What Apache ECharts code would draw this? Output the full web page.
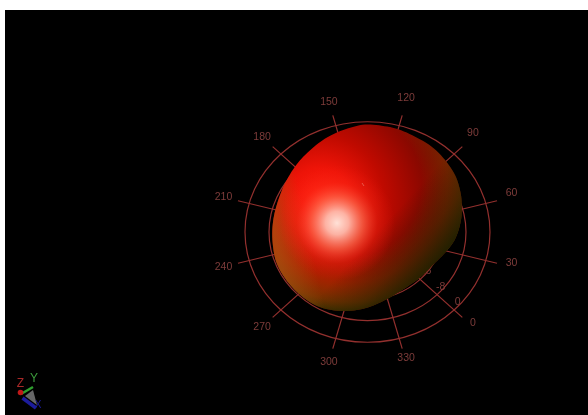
<!DOCTYPE html>
<html><head><meta charset="utf-8">
<style>html,body{margin:0;padding:0;background:#fff}#c{width:588px;height:415px}</style>
<script src="https://cdn.jsdelivr.net/npm/echarts@6/dist/echarts.min.js"></script>
</head><body><div id="c"></div>
<script>
// Radial scale: dB values, with the pattern's floor below 0 dB
const dbFloor = -40.83;
const ringValues = [0, -8, -16];
const ringLabels = ['0', '-8', '-16'];
const angleTicks = [0, 30, 60, 90, 120, 150, 180, 210, 240, 270, 300, 330];
// Silhouette of the gain surface: azimuth (deg) and radius above the floor
const blobAngles = [136.2,128.1,119.9,110.8,100.9,90.9,80.9,71.8,63.7,53.1,40.4,29.2,16,1.1,-20.1,-34.6,-46.7,-57.3,-67.4,-77.9,-90.5,-103,-114,-124.1,-135.2,-145.8,-156.7,-168.3,-180,-188.9,-198.5,-206.6,-215.5];
const blobRadii  = [39.82,39.65,39.4,38.69,38.16,37.13,36,34.53,33.15,31.48,29.4,27.1,25,24.3,24.6,26.24,28.27,29.95,31.26,32.21,32.36,32.41,32.41,31.98,31.73,31.73,32,32.89,34.2,35.32,36.72,37.86,38.94];
const triadNames = ['Z', 'Y', 'X'];
const triadColors = ['#a82828', '#3c9c3c', '#1c1c9c'];

const ringColor = '#93302e';
const labelColor = '#7e3c3a';
const spokeOuter = 44.7, labelRadius = 49.7, rotation = -45;
const font = '10.5px "Liberation Sans", Arial, sans-serif';
const rOf = db => db - dbFloor;
const polar = (deg, r) => {
  const a = (deg + rotation) * Math.PI / 180;
  return [r * Math.cos(a), r * Math.sin(a)];
};
// Closed Catmull-Rom path through the read outline points (pixel space)
const closedSpline = pts => {
  const out = [], n = pts.length, steps = 6;
  for (let i = 0; i < n; i++) {
    const p0 = pts[(i - 1 + n) % n], p1 = pts[i], p2 = pts[(i + 1) % n], p3 = pts[(i + 2) % n];
    for (let k = 0; k < steps; k++) {
      const t = k / steps, t2 = t * t, t3 = t2 * t;
      out.push([0, 1].map(j => 0.5 * (2 * p1[j] + (p2[j] - p0[j]) * t +
        (2 * p0[j] - 5 * p1[j] + 4 * p2[j] - p3[j]) * t2 +
        (3 * p1[j] - p0[j] - 3 * p2[j] + p3[j]) * t3)));
    }
  }
  return out;
};
const G = echarts.graphic;
const stops = a => a.map(([offset, color]) => ({offset, color}));

const chart = echarts.init(document.getElementById('c'), null, {renderer: 'canvas'});
chart.setOption({
  animation: false,
  backgroundColor: '#fff',
  grid: {left: 5, top: 10, right: 0, bottom: 0, show: true, backgroundColor: '#000', borderWidth: 0},
  xAxis: {type: 'value', min: -120.83, max: 73.5, show: false},
  yAxis: {type: 'value', min: -67.78, max: 82.22, show: false},
  tooltip: {show: false},
  series: [
    { // rings
      type: 'custom', coordinateSystem: 'cartesian2d', clip: false, silent: true, z: 1,
      data: ringValues.map(v => [v]),
      renderItem(params, api) {
        const c = api.coord([0, 0]);
        const s = api.size([rOf(api.value(0)), rOf(api.value(0))]);
        return {type: 'ellipse', shape: {cx: c[0], cy: c[1], rx: s[0], ry: s[1]},
          style: {fill: 'none', stroke: ringColor, lineWidth: 1.2}};
      }
    },
    { // spokes + angle labels
      type: 'custom', coordinateSystem: 'cartesian2d', clip: false, silent: true, z: 2,
      data: angleTicks.map(v => [v]),
      renderItem(params, api) {
        const d = api.value(0);
        const a = api.coord([0, 0]), b = api.coord(polar(d, spokeOuter)), t = api.coord(polar(d, labelRadius));
        const lift = t[0] > a[0] ? 4 : 0;
        return {type: 'group', children: [
          {type: 'line', shape: {x1: a[0], y1: a[1], x2: b[0], y2: b[1]},
            style: {stroke: ringColor, lineWidth: 1.2}},
          {type: 'text', x: t[0], y: t[1] - lift, style: {text: String(d), fill: labelColor,
            font, align: 'center', verticalAlign: 'middle'}}
        ]};
      }
    },
    { // radial labels
      type: 'custom', coordinateSystem: 'cartesian2d', clip: false, silent: true, z: 3,
      data: ringValues.map(v => [v]),
      renderItem(params, api) {
        const p = api.coord(polar(0, rOf(api.value(0))));
        return {type: 'text', x: p[0] + 3.5, y: p[1] - 8, style: {text: ringLabels[params.dataIndex], fill: labelColor,
          font, align: 'center', verticalAlign: 'middle'}};
      }
    },
    { // gain surface
      type: 'custom', coordinateSystem: 'cartesian2d', clip: false, silent: true, z: 5,
      data: blobAngles.map((a, i) => [a, blobRadii[i]]),
      renderItem(params, api) {
        if (params.dataIndex > 0) return null;
        const shape = {points: closedSpline(blobAngles.map((a, i) => api.coord(polar(a, blobRadii[i]))))};
        const layer = fill => ({type: 'polygon', shape, style: {fill, stroke: 'none'}});
        return {type: 'group', children: [
          layer(new G.RadialGradient(320, 200, 160, stops([
            [0, '#ff2010'], [0.2, '#ee1408'], [0.4, '#c00a00'], [0.6, '#960800'], [0.8, '#6a0a00'], [1, '#3a0a00']]), true)),
          // olive tint toward the lower rim
          layer(new G.RadialGradient(350, 185, 130, stops([
            [0, 'rgba(150,80,0,0)'], [0.55, 'rgba(150,80,0,0)'], [0.75, 'rgba(150,80,0,0.35)'], [0.9, 'rgba(100,70,0,0.65)'], [1, 'rgba(40,50,0,0.9)']]), true)),
          // dark green at the lower right
          layer(new G.LinearGradient(365, 245, 420, 295, stops([
            [0, 'rgba(10,25,0,0)'], [0.5, 'rgba(10,25,0,0.35)'], [1, 'rgba(10,25,0,0.85)']]), true)),
          // orange edge at the left
          layer(new G.LinearGradient(305, 215, 272, 222, stops([
            [0, 'rgba(170,90,20,0)'], [1, 'rgba(170,90,20,0.6)']]), true)),
          // highlight
          layer(new G.RadialGradient(337, 223, 58, stops([
            [0, 'rgba(255,225,215,1)'], [0.2, 'rgba(255,200,185,0.88)'], [0.45, 'rgba(255,115,85,0.65)'], [0.7, 'rgba(255,50,30,0.28)'], [1, 'rgba(255,30,20,0)']]), true))
        ]};
      }
    }
  ],
  graphic: [
    {type: 'polygon', shape: {points: [[25,396],[33,390],[37,405]]}, style: {fill: '#666'}, z: 10},
    {type: 'line', shape: {x1: 22.5, y1: 398, x2: 36, y2: 408}, style: {stroke: triadColors[2], lineWidth: 3.5}, z: 11},
    {type: 'line', shape: {x1: 21, y1: 394, x2: 33, y2: 387}, style: {stroke: '#2f9f2f', lineWidth: 2.5}, z: 11},
    {type: 'circle', shape: {cx: 20.5, cy: 392.5, r: 2.8}, style: {fill: '#c01818'}, z: 12},
    {type: 'text', x: 20.5, y: 384, style: {text: triadNames[0], fill: triadColors[0], font: '12px "Liberation Sans", Arial, sans-serif', align: 'center', verticalAlign: 'middle'}, z: 12},
    {type: 'text', x: 34, y: 379, style: {text: triadNames[1], fill: triadColors[1], font: '12px "Liberation Sans", Arial, sans-serif', align: 'center', verticalAlign: 'middle'}, z: 12},
    {type: 'text', x: 38, y: 405, style: {text: triadNames[2], fill: triadColors[2], font: '10px "Liberation Sans", Arial, sans-serif', align: 'center', verticalAlign: 'middle'}, z: 12},
    {type: 'line', shape: {x1: 362, y1: 183, x2: 364, y2: 186}, style: {stroke: '#e8584a', lineWidth: 1}, z: 20}
  ]
});
</script></body></html>
